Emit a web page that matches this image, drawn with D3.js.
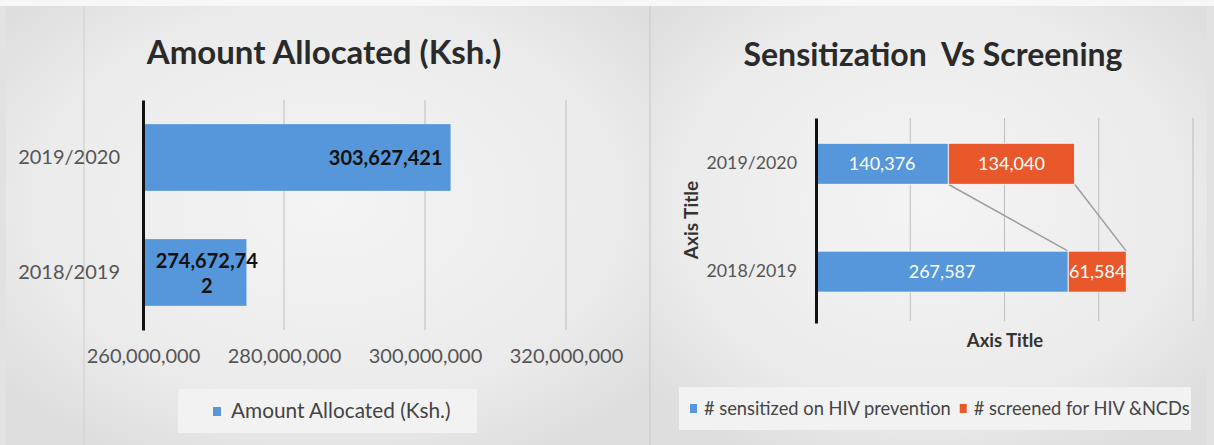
<!DOCTYPE html>
<html>
<head>
<meta charset="utf-8">
<script src="https://cdn.jsdelivr.net/npm/d3@7"></script>
<style>
  html, body { margin: 0; padding: 0; background: #e4e4e4; }
  svg { display: block; font-family: Lato, "Noto Sans", sans-serif; }
</style>
</head>
<body>
<svg id="chart" width="1214" height="445"></svg>
<script>
// chart 1: amount allocated
var years = ["2019/2020", "2018/2019"];
var amounts = [303627421, 274672742];
var amountTicks = [260000000, 280000000, 300000000, 320000000];

// chart 2: sensitization vs screening
var sensitized = [140376, 267587];
var screened = [134040, 61584];
var screenTicks = [0, 100000, 200000, 300000, 400000];
var seriesNames = ["# sensitized on HIV prevention", "# screened for HIV &NCDs"];

var blue = "#5597da";
var orange = "#e9582b";
var fmt = d3.format(",");

var svg = d3.select("#chart");

// backdrop, a bit like the photographed slide
var defs = svg.append("defs");
var grad = defs.append("radialGradient").attr("id", "glow")
    .attr("cx", "50%").attr("cy", "45%").attr("r", "65%");
grad.append("stop").attr("offset", "0%").attr("stop-color", "#f4f4f4");
grad.append("stop").attr("offset", "70%").attr("stop-color", "#ebebeb");
grad.append("stop").attr("offset", "100%").attr("stop-color", "#dedede");

svg.append("rect").attr("width", 1214).attr("height", 445).attr("fill", "#e2e2e2");
svg.append("rect").attr("width", 1214).attr("height", 6).attr("fill", "#f7f7f7");
svg.append("rect").attr("x", 6).attr("y", 6).attr("width", 644).attr("height", 439).attr("fill", "url(#glow)");
svg.append("rect").attr("x", 651).attr("y", 6).attr("width", 556).attr("height", 439).attr("fill", "url(#glow)");
svg.append("line").attr("x1", 84).attr("x2", 84).attr("y1", 6).attr("y2", 445)
    .attr("stroke", "#d6d6d6").attr("stroke-width", 1.5);
svg.append("line").attr("x1", 650).attr("x2", 650).attr("y1", 6).attr("y2", 445)
    .attr("stroke", "#cfcfcf").attr("stroke-width", 1.5);

// ---------------- left chart ----------------
var g1 = svg.append("g");

g1.append("text")
    .attr("x", 324).attr("y", 64)
    .attr("text-anchor", "middle")
    .attr("font-size", 33).attr("font-weight", "bold")
    .attr("fill", "#2a2a2a")
    .text("Amount Allocated (Ksh.)");

var x1 = d3.scaleLinear().domain([260000000, 320000000]).range([143, 566]);
var y1 = d3.scaleBand().domain(years).range([100, 330]).paddingInner(0.42).paddingOuter(0.21);

g1.selectAll(".grid")
  .data(amountTicks.slice(1))
  .enter().append("line")
    .attr("class", "grid")
    .attr("x1", function(d) { return x1(d); })
    .attr("x2", function(d) { return x1(d); })
    .attr("y1", 100).attr("y2", 330)
    .attr("stroke", "#bdbdbd").attr("stroke-width", 1);

g1.selectAll(".bar")
  .data(amounts)
  .enter().append("rect")
    .attr("class", "bar")
    .attr("x", x1(260000000))
    .attr("y", function(d, i) { return y1(years[i]); })
    .attr("width", function(d) { return x1(d) - x1(260000000); })
    .attr("height", y1.bandwidth())
    .attr("fill", blue);

var yAxis1 = g1.append("g")
    .attr("transform", "translate(" + x1(260000000) + ",0)")
    .call(d3.axisLeft(y1).tickSize(0).tickSizeOuter(0).tickPadding(23));
yAxis1.select(".domain").attr("stroke", "#111").attr("stroke-width", 3);
yAxis1.selectAll("text").attr("font-size", 20).attr("fill", "#555").style("font-family", "Lato, sans-serif");

var xAxis1 = g1.append("g")
    .attr("transform", "translate(0,330)")
    .call(d3.axisBottom(x1).tickValues(amountTicks).tickFormat(fmt).tickSize(0).tickPadding(19));
xAxis1.select(".domain").remove();
xAxis1.selectAll("text").attr("font-size", 20).attr("fill", "#555").style("font-family", "Lato, sans-serif");

// value labels (the smaller one wraps as in the original)
g1.append("text")
    .attr("x", x1(amounts[0]) - 8)
    .attr("y", y1(years[0]) + y1.bandwidth() / 2)
    .attr("dy", "0.35em")
    .attr("text-anchor", "end")
    .attr("font-size", 20).attr("font-weight", "bold").attr("fill", "#111")
    .text(fmt(amounts[0]));

var wrapped = fmt(amounts[1]);
var lbl = g1.append("text")
    .attr("text-anchor", "middle")
    .attr("font-size", 20).attr("font-weight", "bold").attr("fill", "#111");
var cx = (x1(260000000) + x1(amounts[1])) / 2 + 12;
var cy = y1(years[1]) + y1.bandwidth() / 2;
lbl.append("tspan").attr("x", cx).attr("y", cy - 12).attr("dy", "0.35em").text(wrapped.slice(0, 10));
lbl.append("tspan").attr("x", cx).attr("y", cy + 13).attr("dy", "0.35em").text(wrapped.slice(10));

// legend
g1.append("rect").attr("x", 178).attr("y", 389).attr("width", 299).attr("height", 44).attr("fill", "#f2f2f2");
g1.append("rect").attr("x", 213).attr("y", 407).attr("width", 8).attr("height", 9).attr("fill", blue);
g1.append("text")
    .attr("x", 231).attr("y", 418)
    .attr("font-size", 20.8).attr("fill", "#444")
    .text("Amount Allocated (Ksh.)");

// ---------------- right chart ----------------
var g2 = svg.append("g");

g2.append("text")
    .attr("x", 933).attr("y", 66)
    .attr("text-anchor", "middle")
    .attr("font-size", 32).attr("font-weight", "bold")
    .attr("fill", "#2a2a2a")
    .attr("xml:space", "preserve")
    .text("Sensitization  Vs Screening");

var x2 = d3.scaleLinear().domain([0, 400000]).range([816, 1193]);
var y2 = d3.scaleBand().domain(years).range([118, 323])
    .paddingInner(0.62).paddingOuter(0.26).align(0.45);

g2.selectAll(".grid")
  .data(screenTicks.slice(1))
  .enter().append("line")
    .attr("class", "grid")
    .attr("x1", function(d) { return x2(d); })
    .attr("x2", function(d) { return x2(d); })
    .attr("y1", 118).attr("y2", 321)
    .attr("stroke", "#bdbdbd").attr("stroke-width", 1);

var rows = years.map(function(y, i) {
  return { year: y, sensitized: sensitized[i], screened: screened[i] };
});
var stack = d3.stack().keys(["sensitized", "screened"])(rows);
var colors = [blue, orange];

// series lines between the stacked segments
stack.forEach(function(s) {
  g2.append("line")
    .attr("x1", x2(s[0][1])).attr("y1", y2(years[0]) + y2.bandwidth())
    .attr("x2", x2(s[1][1])).attr("y2", y2(years[1]))
    .attr("stroke", "#9e9e9e").attr("stroke-width", 1.5);
});

var layer = g2.selectAll(".layer")
  .data(stack)
  .enter().append("g")
    .attr("class", "layer")
    .attr("fill", function(d, i) { return colors[i]; });

layer.selectAll("rect")
  .data(function(d) { return d; })
  .enter().append("rect")
    .attr("x", function(d) { return x2(d[0]); })
    .attr("y", function(d) { return y2(d.data.year); })
    .attr("width", function(d) { return x2(d[1]) - x2(d[0]); })
    .attr("height", y2.bandwidth())
    .attr("stroke", "#fff").attr("stroke-width", 0.8);

layer.selectAll("text")
  .data(function(d) { return d; })
  .enter().append("text")
    .attr("x", function(d) { return (x2(d[0]) + x2(d[1])) / 2; })
    .attr("y", function(d) { return y2(d.data.year) + y2.bandwidth() / 2; })
    .attr("dy", "0.35em")
    .attr("text-anchor", "middle")
    .attr("font-size", 18).attr("fill", "#fff")
    .text(function(d) { return fmt(d[1] - d[0]); });

var yAxis2 = g2.append("g")
    .attr("transform", "translate(" + x2(0) + ",0)")
    .call(d3.axisLeft(y2).tickSize(0).tickSizeOuter(0).tickPadding(19));
yAxis2.select(".domain").attr("stroke", "#111").attr("stroke-width", 3);
yAxis2.selectAll("text").attr("font-size", 17.8).attr("fill", "#555").style("font-family", "Lato, sans-serif");

g2.append("text")
    .attr("x", 1005).attr("y", 347)
    .attr("text-anchor", "middle")
    .attr("font-size", 18.5).attr("font-weight", "bold").attr("fill", "#333")
    .text("Axis Title");

g2.append("text")
    .attr("transform", "translate(698,220) rotate(-90)")
    .attr("text-anchor", "middle")
    .attr("font-size", 19).attr("font-weight", "bold").attr("fill", "#333")
    .text("Axis Title");

// legend
g2.append("rect").attr("x", 679).attr("y", 387).attr("width", 512).attr("height", 43).attr("fill", "#f2f2f2");
var lx = 690;
seriesNames.forEach(function(name, i) {
  g2.append("rect").attr("x", lx).attr("y", 404).attr("width", 7).attr("height", 9).attr("fill", colors[i]);
  var t = g2.append("text")
      .attr("x", lx + 14).attr("y", 415)
      .attr("font-size", 18.3).attr("fill", "#444")
      .text(name);
  lx += 14 + t.node().getComputedTextLength() + 9;
});
</script>
</body>
</html>
